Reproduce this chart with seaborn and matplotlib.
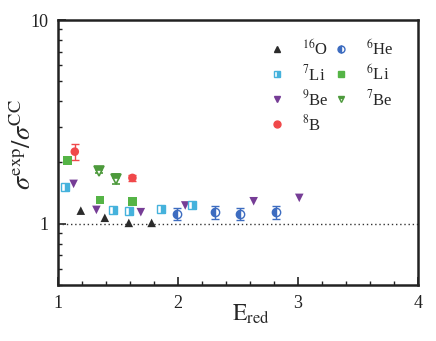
import numpy as np
import pandas as pd
import matplotlib
matplotlib.use("Agg")
import matplotlib.pyplot as plt
import seaborn as sns
from matplotlib.lines import Line2D
from matplotlib.ticker import FixedLocator, NullFormatter, MultipleLocator

# data (x = E_red, y = sigma_exp / sigma_CC)
o16_x = [1.19, 1.39, 1.59, 1.78]
o16_y = [1.16, 1.07, 1.01, 1.01]

he6_x = [1.99, 2.31, 2.52, 2.82]
he6_y = [1.12, 1.14, 1.12, 1.14]
he6_err = [0.08, 0.08, 0.08, 0.08]

li7_x = [1.06, 1.46, 1.59, 1.86, 2.12]
li7_y = [1.52, 1.17, 1.16, 1.18, 1.23]

li6_x = [1.08, 1.35, 1.62]
li6_y = [2.04, 1.31, 1.29]

be9_x = [1.13, 1.32, 1.69, 2.06, 2.63, 3.01]
be9_y = [1.57, 1.17, 1.14, 1.23, 1.29, 1.34]

be7_x = [1.34, 1.48]
be7_y = [1.82, 1.66]
be7_err = [0.05, 0.09]

b8_x = [1.14, 1.62]
b8_y = [2.26, 1.68]
b8_err = [0.2, 0.06]

sns.set_theme(style="ticks")
plt.rcParams["font.family"] = ["Liberation Serif", "DejaVu Serif"]
plt.rcParams["mathtext.fontset"] = "stix"

c_o16 = "#2b2b2b"
c_he6 = "#3d6cc0"
c_li7 = "#45b2dc"
c_li6 = "#55b446"
c_be9 = "#763d96"
c_be7 = "#4d9a3c"
c_b8 = "#f0484a"

fig = plt.figure(figsize=(4.36, 3.41), dpi=100)
ax = fig.add_axes([0.133, 0.164, 0.826, 0.777])

ax.axhline(1.0, color="#333333", linestyle=(0, (1, 2)), linewidth=1.0, zorder=1)

filled = pd.DataFrame({
    "x": o16_x + li6_x + be9_x + b8_x,
    "y": o16_y + li6_y + be9_y + b8_y,
    "nuc": ["16O"] * len(o16_x) + ["6Li"] * len(li6_x) + ["9Be"] * len(be9_x) + ["8B"] * len(b8_x),
})
sns.scatterplot(data=filled, x="x", y="y", hue="nuc", style="nuc",
                palette={"16O": c_o16, "6Li": c_li6, "9Be": c_be9, "8B": c_b8},
                markers={"16O": "^", "6Li": "s", "9Be": "v", "8B": "o"},
                s=38, linewidth=0, legend=False, ax=ax, zorder=3)

ax.errorbar(b8_x, b8_y, yerr=b8_err, fmt="none", ecolor=c_b8, capsize=3,
            elinewidth=1, zorder=2)
ax.errorbar(he6_x, he6_y, yerr=he6_err, fmt="o", color=c_he6, mfc=c_he6,
            mfcalt="white", fillstyle="left", ms=6, mew=1, capsize=3,
            elinewidth=1, zorder=3)
ax.errorbar(li7_x, li7_y, fmt="s", color=c_li7, mfc=c_li7, mfcalt="white",
            fillstyle="right", ms=6, mew=1, zorder=3)
ax.errorbar(be7_x, be7_y, yerr=be7_err, fmt="v", color=c_be7, mfc=c_be7,
            mfcalt="white", fillstyle="top", ms=7, mew=1.2, capsize=3,
            elinewidth=1, zorder=3)

ax.set_yscale("log")
ax.set_xlim(1, 4)
ax.set_ylim(0.5, 10)

ax.xaxis.set_major_locator(FixedLocator([1, 2, 3, 4]))
ax.xaxis.set_minor_locator(MultipleLocator(0.2))
ax.yaxis.set_major_locator(FixedLocator([1, 10]))
ax.yaxis.set_minor_locator(FixedLocator([0.5, 0.6, 0.7, 0.8, 0.9, 2, 3, 4, 5, 6, 7, 8, 9]))
ax.yaxis.set_minor_formatter(NullFormatter())
ax.set_yticklabels(["1", "10"])
ax.set_xticklabels(["1", "2", "3", "4"])

ax.tick_params(which="major", direction="in", length=6, width=1.2, labelsize=13,
               colors="#222222", pad=7)
ax.tick_params(which="minor", direction="in", length=3, width=1.0, colors="#222222")
for sp in ax.spines.values():
    sp.set_linewidth(1.8)
    sp.set_color("#222222")

ax.set_xlabel(r"$\mathrm{E}_{\mathrm{red}}$", fontsize=17)
ax.xaxis.set_label_coords(0.535, -0.065, transform=ax.transAxes)
ax.xaxis.label.set_va("top")
ax.set_ylabel(r"$\sigma^{\mathrm{exp}}/\sigma^{\mathrm{CC}}$", fontsize=19)
ax.yaxis.set_label_coords(-0.098, 0.53, transform=ax.transAxes)
ax.yaxis.label.set_va("center")

handles = [
    Line2D([], [], ls="none", marker="^", color=c_o16, ms=5),
    Line2D([], [], ls="none", marker="s", color=c_li7, mfc=c_li7, mfcalt="white", fillstyle="right", ms=5),
    Line2D([], [], ls="none", marker="v", color=c_be9, ms=5),
    Line2D([], [], ls="none", marker="o", color=c_b8, ms=5),
    Line2D([], [], ls="none", marker="o", color=c_he6, mfc=c_he6, mfcalt="white", fillstyle="left", ms=5),
    Line2D([], [], ls="none", marker="s", color=c_li6, ms=5),
    Line2D([], [], ls="none", marker="v", color=c_be7, mfc=c_be7, mfcalt="white", fillstyle="top", ms=5),
]
labels = [r"$^{16}$O", r"$^{7}$Li", r"$^{9}$Be", r"$^{8}$B",
          r"$^{6}$He", r"$^{6}$Li", r"$^{7}$Be"]
ax.legend(handles, labels, ncol=2, loc="upper right", frameon=False,
          fontsize=12, handlelength=1.0, handletextpad=1.0, columnspacing=0.25,
          labelspacing=0.3, bbox_to_anchor=(0.975, 0.985))

fig.savefig("out.png", dpi=100)
